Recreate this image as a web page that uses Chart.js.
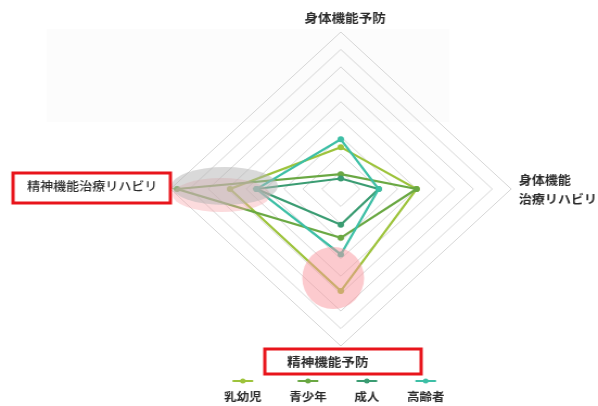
<!DOCTYPE html>
<html lang="ja">
<head>
<meta charset="UTF-8">
<script src="https://cdn.jsdelivr.net/npm/chart.js"></script>
<style>
  html, body { margin: 0; padding: 0; background: #fff; overflow: hidden; }
  /* the original image is a bit wider than tall, so the radar is stretched sideways */
  .wrap { width: 551px; height: 406px; transform: scaleX(1.0853); transform-origin: 0 0; }
</style>
</head>
<body>
<div class="wrap"><canvas id="radarChart" width="551" height="406"></canvas></div>
<script>
const axisLabels = ['身体機能予防', ['身体機能', '治療リハビリ'], '精神機能予防', '精神機能治療リハビリ'];
const groups = ['乳幼児', '青少年', '成人', '高齢者'];

// top, right, bottom, left
const infants = [2.4, 4.0, 5.85, 5.85];
const youth = [0.85, 4.0, 2.8, 8.65];
const adults = [0.6, 2.0, 2.05, 4.45];
const seniors = [2.85, 2.0, 3.75, 4.45];

const scaleMax = 9;
const colors = ['#9dc33b', '#6aa843', '#3a9c72', '#3dbfa6'];
const FONT = '"Noto Sans CJK JP", "Noto Sans", sans-serif';

const decorations = {
    id: 'decorations',
    beforeDraw(chart) {
        const ctx = chart.ctx;
        const r = chart.scales.r;
        ctx.save();
        ctx.fillStyle = '#fcfcfc';
        ctx.fillRect(r.xCenter - 271, r.yCenter - 160, 371, 93);
        ctx.restore();
    },
    afterDatasetsDraw(chart) {
        const ctx = chart.ctx;
        const r = chart.scales.r;
        const cx = r.xCenter, cy = r.yCenter;
        ctx.save();
        // highlight round the left axis
        ctx.fillStyle = 'rgba(248, 165, 170, 0.4)';
        ctx.beginPath();
        ctx.ellipse(cx - 110, cy + 6, 45, 17, 0, 0, Math.PI * 2);
        ctx.fill();
        ctx.fillStyle = 'rgba(180, 180, 180, 0.5)';
        ctx.beginPath();
        ctx.ellipse(cx - 107, cy - 3, 49, 19, 0, 0, Math.PI * 2);
        ctx.fill();
        // pink circle on the bottom axis
        ctx.fillStyle = 'rgba(250, 150, 158, 0.5)';
        ctx.beginPath();
        ctx.ellipse(cx - 7, cy + 89, 28.5, 31, 0, 0, Math.PI * 2);
        ctx.fill();
        ctx.restore();
    },
    afterDraw(chart) {
        const ctx = chart.ctx;
        const r = chart.scales.r;
        const cx = r.xCenter, cy = r.yCenter, rad = r.drawingArea;
        ctx.save();
        ctx.fillStyle = '#2b2b2b';
        ctx.textBaseline = 'middle';

        // axis labels
        ctx.font = 'bold 12.5px ' + FONT;
        ctx.textAlign = 'center';
        ctx.fillText(axisLabels[0], cx + 4, cy - rad - 14);

        ctx.font = 'bold 12px ' + FONT;
        ctx.textAlign = 'left';
        ctx.fillText(axisLabels[1][0], cx + rad + 7, cy - 9);
        ctx.fillText(axisLabels[1][1], cx + rad + 7, cy + 10);

        ctx.font = 'bold 12.5px ' + FONT;
        ctx.textAlign = 'center';
        ctx.fillText(axisLabels[2], cx - 12, cy + rad + 16);

        ctx.font = '500 12px ' + FONT;
        ctx.textAlign = 'right';
        ctx.fillText(axisLabels[3], cx - rad - 12, cy - 3);

        // red boxes
        ctx.strokeStyle = '#e8141b';
        ctx.lineWidth = 3;
        ctx.strokeRect(cx - rad - 145, cy - 16, 145, 30);
        ctx.strokeRect(cx - 70, cy + rad + 3, 144, 25);

        // legend: marker above, label under it
        ctx.font = 'bold 11.5px ' + FONT;
        ctx.textAlign = 'center';
        const gap = 25.5;
        const widths = groups.map(g => ctx.measureText(g).width);
        const total = widths.reduce((a, b) => a + b, 0) + gap * (groups.length - 1);
        let x = cx - 6 - total / 2;
        groups.forEach((g, i) => {
            const mid = x + widths[i] / 2;
            ctx.strokeStyle = colors[i];
            ctx.fillStyle = colors[i];
            ctx.lineWidth = 2;
            ctx.beginPath();
            ctx.moveTo(mid - 9.5, 381);
            ctx.lineTo(mid + 9.5, 381);
            ctx.stroke();
            ctx.beginPath();
            ctx.arc(mid, 381, 2.5, 0, Math.PI * 2);
            ctx.fill();
            ctx.fillStyle = '#2b2b2b';
            ctx.fillText(g, mid, 397);
            x += widths[i] + gap;
        });
        ctx.restore();
    }
};

const series = [infants, youth, adults, seniors];

new Chart(document.getElementById('radarChart'), {
    type: 'radar',
    data: {
        labels: axisLabels,
        datasets: series.map((vals, i) => ({
            label: groups[i],
            data: vals,
            borderColor: colors[i],
            backgroundColor: colors[i],
            pointBackgroundColor: colors[i],
            fill: false,
            order: groups.length - i
        }))
    },
    options: {
        responsive: false,
        animation: false,
        devicePixelRatio: 1,
        layout: { padding: { top: 32, bottom: 59, left: 77, right: 0 } },
        plugins: {
            legend: { display: false },
            tooltip: { enabled: false }
        },
        elements: {
            line: { borderWidth: 2.2, tension: 0 },
            point: { radius: 3, borderWidth: 0 }
        },
        scales: {
            r: {
                min: 0,
                max: scaleMax,
                ticks: { display: false, stepSize: 1 },
                grid: { color: '#d6d6d6', lineWidth: 1 },
                angleLines: { display: false },
                pointLabels: { display: false }
            }
        }
    },
    plugins: [decorations]
});
</script>
</body>
</html>
